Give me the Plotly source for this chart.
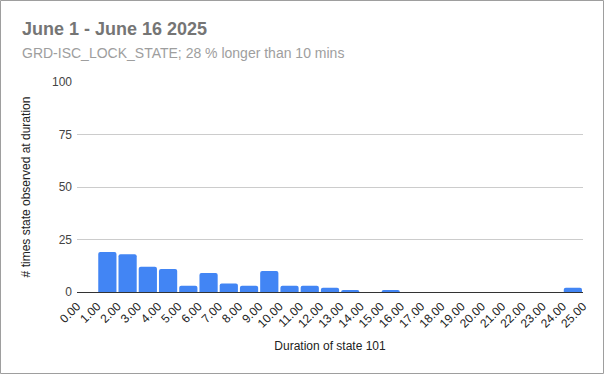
import plotly.graph_objects as go

# Histogram data: bin start (duration) and counts
bin_starts = list(range(0, 25))
counts = [0, 19, 18, 12, 11, 3, 9, 4, 3, 10, 3, 3, 2, 1, 0, 1, 0, 0, 0, 0, 0, 0, 0, 0, 2]
tick_values = list(range(0, 26))
tick_labels = [f"{v:.2f}" for v in tick_values]
y_ticks = [0, 25, 50, 75, 100]

title_text = "June 1 - June 16 2025"
subtitle_text = "GRD-ISC_LOCK_STATE; 28 % longer than 10 mins"
x_title = "Duration of state 101"
y_title = "# times state observed at duration"

W, H = 604, 374
L, R, T, B = 77, 583, 82, 292
pw, ph = R - L, B - T

def px_x(x):
    return (x - L) / pw

def px_y(y):
    return (B - y) / ph

FONT = "Liberation Sans, Arial, sans-serif"

fig = go.Figure()
fig.add_trace(go.Bar(
    x=bin_starts, y=counts, offset=0.05, width=0.9,
    marker=dict(color="#4285F4", line=dict(width=0)),
    hoverinfo="x+y",
))

fig.update_layout(
    width=W, height=H,
    margin=dict(l=L, r=W - R, t=T, b=H - B, pad=0),
    paper_bgcolor="white", plot_bgcolor="white",
    showlegend=False,
    barcornerradius=2,
    font=dict(family=FONT, size=12, color="#222222"),
    xaxis=dict(
        range=[0, 25], tickmode="array", tickvals=tick_values, ticktext=tick_labels,
        tickangle=-45, showgrid=False, zeroline=False, showline=False,
        tickfont=dict(size=12, color="#222222"), ticks="", ticklabelstandoff=4,
        title=dict(text=x_title, font=dict(size=12, color="#222222"), standoff=12),
        fixedrange=True,
    ),
    yaxis=dict(
        range=[0, 100], tickmode="array", tickvals=y_ticks,
        showgrid=True, gridcolor="#cccccc", gridwidth=1,
        zeroline=True, zerolinecolor="#333333", zerolinewidth=1,
        tickfont=dict(size=12, color="#444444"), ticks="", ticklabelstandoff=4,
        title=dict(text=y_title, font=dict(size=12, color="#222222"), standoff=18),
        fixedrange=True,
    ),
    annotations=[
        dict(text=f"<b>{title_text}</b>", xref="paper", yref="paper",
             x=px_x(20), y=px_y(29), xanchor="left", yanchor="middle",
             showarrow=False, font=dict(family=FONT, size=18, color="#757575")),
        dict(text=subtitle_text, xref="paper", yref="paper",
             x=px_x(20), y=px_y(53), xanchor="left", yanchor="middle",
             showarrow=False, font=dict(family=FONT, size=14, color="#9e9e9e")),
    ],
    shapes=[
        dict(type="rect", xref="paper", yref="paper",
             x0=px_x(0.5), x1=px_x(W - 0.5), y0=px_y(H - 0.5), y1=px_y(0.5),
             line=dict(color="#9e9e9e", width=1), fillcolor="rgba(0,0,0,0)", layer="below"),
    ],
)

fig.write_html(
    "out.html",
    config={"displayModeBar": False},
    post_script="document.body.style.margin='0';document.body.style.overflow='hidden';",
)
